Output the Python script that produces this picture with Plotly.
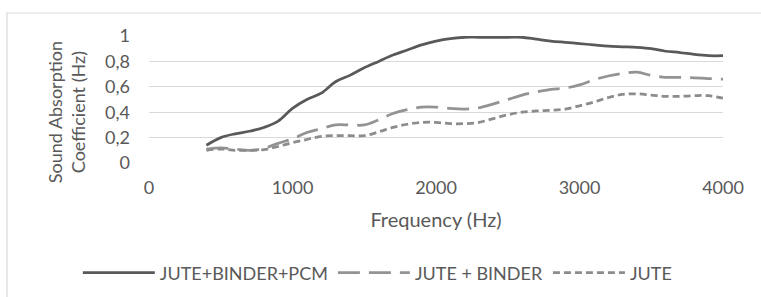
import plotly.graph_objects as go

freq = [400, 500, 600, 700, 800, 900, 1000, 1100, 1200, 1300, 1400, 1500, 1600, 1700, 1800, 1900,
        2000, 2100, 2200, 2300, 2400, 2500, 2600, 2700, 2800, 2900, 3000, 3100, 3200, 3300, 3400,
        3500, 3600, 3700, 3800, 3900, 4000]

jute_binder_pcm = [0.14, 0.20, 0.23, 0.25, 0.28, 0.33, 0.43, 0.50, 0.55, 0.64, 0.69, 0.75, 0.80, 0.85, 0.89, 0.93,
                   0.96, 0.98, 0.99, 0.99, 0.99, 0.99, 0.99, 0.975, 0.96, 0.95, 0.94, 0.93, 0.92, 0.915, 0.91,
                   0.90, 0.88, 0.87, 0.855, 0.845, 0.845]

jute_binder = [0.11, 0.12, 0.11, 0.10, 0.115, 0.155, 0.19, 0.24, 0.27, 0.30, 0.30, 0.30, 0.34, 0.39, 0.42, 0.44,
               0.44, 0.43, 0.425, 0.435, 0.465, 0.50, 0.535, 0.56, 0.58, 0.59, 0.615, 0.655, 0.685, 0.705, 0.715,
               0.69, 0.675, 0.675, 0.67, 0.665, 0.66]

jute = [0.10, 0.11, 0.10, 0.10, 0.105, 0.13, 0.16, 0.185, 0.21, 0.215, 0.215, 0.215, 0.245, 0.28, 0.305, 0.32,
        0.32, 0.31, 0.31, 0.32, 0.35, 0.38, 0.40, 0.41, 0.415, 0.425, 0.45, 0.48, 0.515, 0.54, 0.545,
        0.535, 0.525, 0.525, 0.53, 0.53, 0.51]

series_names = ["JUTE+BINDER+PCM", "JUTE + BINDER", "JUTE"]
y_tickvals = [0, 0.2, 0.4, 0.6, 0.8, 1]
y_ticktext = ["0", "0,2", "0,4", "0,6", "0,8", "1"]
x_tickvals = [0, 1000, 2000, 3000, 4000]
x_ticktext = ["0", "1000", "2000", "3000", "4000"]

TEXT_FONT = "Lato, sans-serif"
TICK_FONT = "Lato, sans-serif"
GREY = "#595959"

fig = go.Figure()
fig.add_trace(go.Scatter(x=freq, y=jute_binder_pcm, name=series_names[0], mode="lines",
                         line=dict(color="#595959", width=2.75, shape="spline", dash="solid")))
fig.add_trace(go.Scatter(x=freq, y=jute_binder, name=series_names[1], mode="lines",
                         line=dict(color="#939393", width=2.75, shape="spline", dash="22px,9px")))
fig.add_trace(go.Scatter(x=freq, y=jute, name=series_names[2], mode="lines",
                         line=dict(color="#8c8c8c", width=2.75, shape="spline", dash="7px,4px")))

fig.update_layout(
    template="none",
    width=761, height=297,
    margin=dict(l=149, r=38, t=36, b=134, autoexpand=False),
    paper_bgcolor="white", plot_bgcolor="white",
    font=dict(family=TEXT_FONT, color=GREY, size=18),
    showlegend=True,
    legend=dict(orientation="h", x=-0.124, xanchor="left", y=-0.866, yanchor="middle",
                font=dict(family=TEXT_FONT, size=18, color=GREY), itemwidth=72,
                bgcolor="rgba(0,0,0,0)"),
    shapes=[dict(type="rect", xref="paper", yref="paper", x0=-0.2474, x1=1.2, y0=-1.2, y1=1.181,
                 line=dict(color="#d9d9d9", width=1.2), fillcolor="rgba(0,0,0,0)", layer="below")],
    annotations=[dict(text="Sound Absorption<br>Coefficient (Hz)", textangle=-90, xref="paper", yref="paper",
                      x=-0.1446, y=0.40, xanchor="center", yanchor="middle", showarrow=False,
                      font=dict(family=TEXT_FONT, size=18, color=GREY))],
)
fig.update_xaxes(range=[0, 4000], tickvals=x_tickvals, ticktext=x_ticktext, showgrid=False, zeroline=False,
                 showline=False, ticks="", automargin=False, tickfont=dict(family=TICK_FONT, size=18, color=GREY),
                 ticklabelstandoff=12,
                 title=dict(text="Frequency (Hz)", font=dict(family=TEXT_FONT, size=20, color=GREY), standoff=15))
fig.update_yaxes(range=[0, 1], tickvals=y_tickvals, ticktext=y_ticktext, showgrid=True, gridcolor="#d9d9d9",
                 gridwidth=1.2, zeroline=False, showline=False, ticks="", automargin=False,
                 tickfont=dict(family=TICK_FONT, size=18, color=GREY), ticklabelstandoff=18)

fig.write_html("out.html", config={"displayModeBar": False},
               post_script="document.body.style.margin='0';document.body.style.overflow='hidden';")
